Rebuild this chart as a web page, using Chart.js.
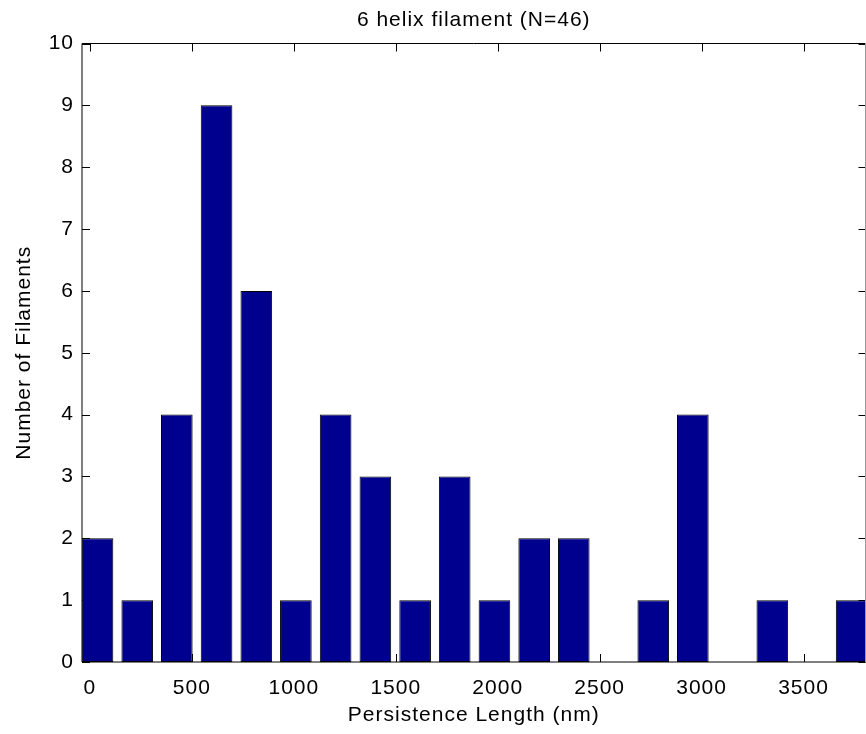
<!DOCTYPE html>
<html>
<head>
<meta charset="utf-8">
<title>6 helix filament (N=46)</title>
<script src="https://cdn.jsdelivr.net/npm/chart.js@4.4.1/dist/chart.umd.min.js"></script>
<style>
  html, body { margin: 0; padding: 0; background: #fff; }
  #wrap { width: 866px; height: 734px; }
</style>
</head>
<body>
<div id="wrap"><canvas id="histogram" width="866" height="734"></canvas></div>
<script>
// bin centres (nm) and counts
var binCenters = [37, 232, 426, 621, 816, 1010, 1205, 1400, 1595, 1789, 1984, 2179, 2373, 2568, 2763, 2957, 3152, 3347, 3542, 3736];
var counts = [2, 1, 4, 9, 6, 1, 4, 3, 1, 3, 1, 2, 2, 0, 1, 4, 0, 1, 0, 1];
var xTicks = [0, 500, 1000, 1500, 2000, 2500, 3000, 3500];
var yTicks = [0, 1, 2, 3, 4, 5, 6, 7, 8, 9, 10];
var xLimits = [-39, 3804];
var yLimits = [0, 10];

var histogram = null;

var font = { family: "'Liberation Sans', Arial, sans-serif", size: 21, weight: 'normal' };

// matlab renders text a bit wider than canvas does
var letterSpacing = {
  id: 'letterSpacing',
  beforeUpdate: function (chart) { chart.ctx.letterSpacing = '1px'; },
  beforeDraw: function (chart) { chart.ctx.letterSpacing = '1px'; }
};

// inward tick marks on all four sides
var axisTicks = {
  id: 'axisTicks',
  beforeDatasetsDraw: function (chart) {
    var ctx = chart.ctx;
    var area = chart.chartArea;
    var x = chart.scales.x;
    var y = chart.scales.y;
    ctx.save();
    ctx.strokeStyle = '#000';
    ctx.lineWidth = 1;
    ctx.beginPath();
    xTicks.forEach(function (v) {
      var px = Math.round(x.getPixelForValue(v)) + 0.5;
      ctx.moveTo(px, area.bottom);
      ctx.lineTo(px, area.bottom - 8);
      ctx.moveTo(px, area.top);
      ctx.lineTo(px, area.top + 8);
    });
    yTicks.forEach(function (v) {
      var py = Math.round(y.getPixelForValue(v)) + 0.5;
      ctx.moveTo(area.left, py);
      ctx.lineTo(area.left + 8, py);
      ctx.moveTo(area.right, py);
      ctx.lineTo(area.right - 7, py);
    });
    ctx.stroke();
    ctx.restore();
  }
};

// axes box
var axesBox = {
  id: 'axesBox',
  afterDatasetsDraw: function (chart) {
    var ctx = chart.ctx;
    var area = chart.chartArea;
    ctx.save();
    ctx.lineWidth = 1;
    ctx.strokeStyle = '#000';
    ctx.beginPath();
    ctx.moveTo(area.left, area.bottom);
    ctx.lineTo(area.left, area.top);
    ctx.lineTo(area.right, area.top);
    ctx.moveTo(area.left, area.bottom);
    ctx.lineTo(area.right, area.bottom);
    ctx.stroke();
    ctx.strokeStyle = '#999';
    ctx.beginPath();
    ctx.moveTo(area.right, area.top);
    ctx.lineTo(area.right, area.bottom);
    ctx.stroke();
    ctx.restore();
  }
};

function plainNumber(value) {
  return String(value);
}

function drawHistogram() {
  if (histogram) {
    histogram.destroy();
  }

  histogram = new Chart(
    document.getElementById('histogram'),
    {
      type: 'bar',
      plugins: [letterSpacing, axisTicks, axesBox],
      options: {
        responsive: false,
        devicePixelRatio: 1,
        animation: false,
        layout: {
          padding: { left: 0, right: 0.5, top: 0, bottom: 0 }
        },
        plugins: {
          legend: { display: false },
          tooltip: { enabled: false },
          title: {
            display: true,
            fullSize: false,
            text: '6 helix filament (N=46)',
            color: '#000',
            font: font,
            padding: { top: 7.4, bottom: 10.9 }
          }
        },
        scales: {
          x: {
            type: 'linear',
            min: xLimits[0],
            max: xLimits[1],
            offset: false,
            afterFit: function (scale) { scale.height = 72; },
            afterBuildTicks: function (scale) {
              scale.ticks = xTicks.map(function (v) { return { value: v }; });
            },
            grid: { display: false, drawTicks: false, offset: false },
            border: { display: false },
            ticks: { color: '#000', font: font, padding: 14, maxRotation: 0, autoSkip: false, callback: plainNumber },
            title: {
              display: true,
              text: 'Persistence Length (nm)',
              color: '#000',
              font: font,
              padding: { top: 0, bottom: 6 }
            }
          },
          y: {
            min: yLimits[0],
            max: yLimits[1],
            afterFit: function (scale) { scale.width = 82; },
            afterBuildTicks: function (scale) {
              scale.ticks = yTicks.map(function (v) { return { value: v }; });
            },
            grid: { display: false, drawTicks: false },
            border: { display: false },
            ticks: { color: '#000', font: font, padding: 8, callback: plainNumber },
            title: {
              display: true,
              text: 'Number of Filaments',
              color: '#000',
              font: font,
              padding: { top: 11.6, bottom: 0 }
            }
          }
        }
      },
      data: {
        datasets: [
          {
            label: 'Number of Filaments',
            data: binCenters.map(function (c, i) { return { x: c, y: counts[i] }; }),
            backgroundColor: '#00008F',
            borderColor: '#000',
            borderWidth: 1,
            borderSkipped: false,
            categoryPercentage: 0.8,
            barPercentage: 1.0
          }
        ]
      }
    }
  );
}

drawHistogram();
</script>
</body>
</html>
